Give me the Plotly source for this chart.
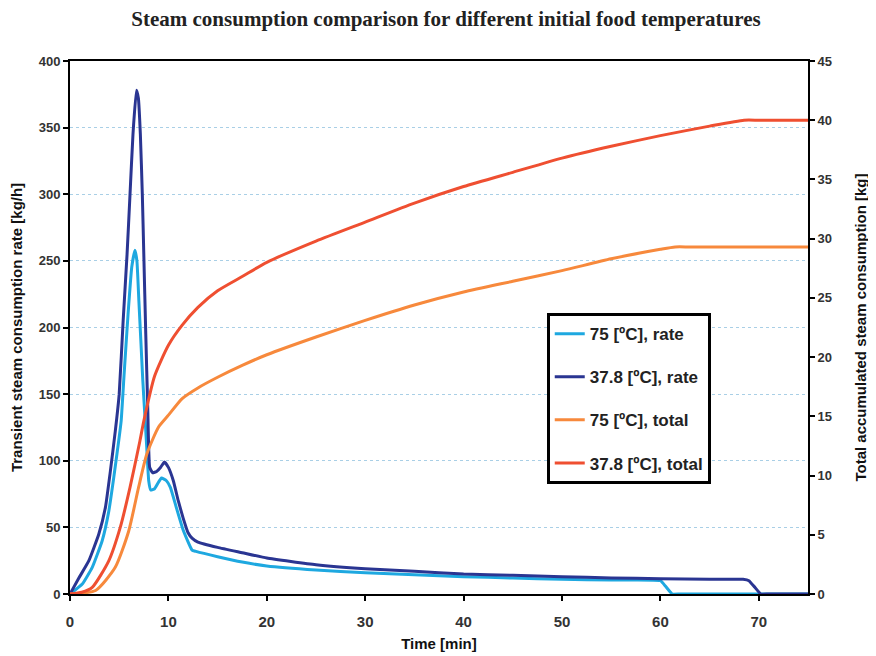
import plotly.graph_objects as go

# ---- data ----
t_rate_75 = [0, 1.25, 2.26, 3.27, 3.94, 4.44, 4.95, 5.2, 5.5, 5.9, 6.27, 6.6, 6.8, 7.0, 7.2, 7.4, 7.6, 7.8, 8.0, 8.2,
             8.6, 9.0, 9.3, 9.8, 10.2, 10.8, 11.5, 12.4, 12.8, 15, 17.5, 20, 25, 30, 35, 40, 45, 50, 55, 60, 60.5,
             61.2, 62, 68, 75]
rate_75 = [0, 7.5, 20, 40, 62, 87, 115, 130, 165, 210, 245, 258, 250, 220, 190, 160, 135, 110, 85, 78, 79, 84, 87, 85,
           80, 65, 48, 33, 32, 28, 24, 21, 18, 16, 14.5, 13, 12, 11, 10.5, 10, 6, 0, 0, 0, 0]

t_rate_378 = [0, 0.9, 1.92, 2.93, 3.6, 4.1, 4.6, 5.0, 5.4, 5.8, 6.1, 6.4, 6.75, 6.95, 7.15, 7.35, 7.5, 7.7, 7.9, 8.1,
              8.4, 8.8, 9.2, 9.6, 10.0, 10.5, 11, 11.5, 12, 12.4, 13, 15, 17.5, 20, 25, 30, 35, 40, 45, 50, 55, 60,
              65, 68.4, 69, 69.6, 70.2, 71, 73, 75]
rate_378 = [0, 12, 25, 45, 65, 92, 122, 150, 205, 255, 300, 345, 378, 372, 345, 300, 255, 195, 140, 95, 91, 92, 95,
            99, 95, 85, 70, 57, 46, 42, 39, 35, 31, 27, 22, 19, 17, 15, 14, 13, 12, 11.5, 11, 11, 10, 5, 0, 0, 0, 0]

t_tot_75 = [0, 2.6, 4.6, 5.96, 6.97, 7.8, 9.0, 10, 11.4, 13, 15, 17.5, 20, 25, 30, 35, 40, 45, 50, 55, 60, 61.5, 63,
            69, 75]
tot_75 = [0, 0.3, 2.25, 5.3, 9.0, 11.8, 14.1, 15.1, 16.5, 17.4, 18.3, 19.3, 20.2, 21.7, 23.1, 24.4, 25.5, 26.4, 27.3,
          28.3, 29.1, 29.3, 29.3, 29.3, 29.3]

t_tot_378 = [0, 1.2, 2.26, 3.94, 5.1, 6.1, 7.1, 7.5, 8.6, 10, 11.4, 13, 15, 17.5, 20, 25, 30, 35, 40, 45, 50, 55, 60,
             65, 68.5, 70, 72.5, 75]
tot_378 = [0, 0.15, 0.56, 2.8, 5.6, 9.0, 12.9, 14.6, 18.4, 21, 22.7, 24.2, 25.6, 26.8, 28.0, 29.8, 31.4, 33.0, 34.4,
           35.6, 36.8, 37.8, 38.7, 39.5, 40, 40, 40, 40]

x_ticks = [0, 10, 20, 30, 40, 50, 60, 70]
y_left_ticks = [0, 50, 100, 150, 200, 250, 300, 350, 400]
y_right_ticks = [0, 5, 10, 15, 20, 25, 30, 35, 40, 45]

C_LB = "#1ea8e0"
C_DB = "#2a3592"
C_OR = "#f7893c"
C_RD = "#ef4f31"

fig = go.Figure()
fig.add_trace(go.Scatter(x=t_rate_75, y=rate_75, mode="lines", name="75 [ºC], rate",
                         line=dict(color=C_LB, width=3, shape="spline", smoothing=0.4), legendgroup="a"))
fig.add_trace(go.Scatter(x=t_rate_378, y=rate_378, mode="lines", name="37.8 [ºC], rate",
                         line=dict(color=C_DB, width=3, shape="spline", smoothing=0.4), legendgroup="b"))
fig.add_trace(go.Scatter(x=t_tot_75, y=tot_75, mode="lines", name="75 [ºC], total", yaxis="y2",
                         line=dict(color=C_OR, width=3, shape="spline", smoothing=0.6), legendgroup="c"))
fig.add_trace(go.Scatter(x=t_tot_378, y=tot_378, mode="lines", name="37.8 [ºC], total", yaxis="y2",
                         line=dict(color=C_RD, width=3, shape="spline", smoothing=0.6), legendgroup="d"))

ytickfont = dict(family="Liberation Sans, Arial", size=13, color="#333333", weight="bold")
xtickfont = dict(family="Liberation Sans, Arial", size=15, color="#333333", weight="bold")
titlefont = dict(family="Liberation Sans, Arial", size=15, color="#111111", weight="bold")

fig.update_layout(
    width=876, height=648,
    margin=dict(l=62, r=76, t=53, b=62, autoexpand=False),
    paper_bgcolor="white", plot_bgcolor="white",
    title=dict(text="<b>Steam consumption comparison for different initial food temperatures</b>",
               x=0.5, xanchor="center", y=1.0, yanchor="top", yref="container", pad=dict(t=3, b=0),
               font=dict(family="Liberation Serif, Times New Roman", size=21, color="#222222")),
    xaxis=dict(range=[0, 75], tickvals=x_ticks, ticks="outside", ticklen=5, tickwidth=2, tickcolor="black",
               showline=True, linecolor="black", linewidth=2, mirror=True, showgrid=False, zeroline=False,
               automargin=False, ticklabelstandoff=8,
               tickfont=xtickfont, title=dict(text="Time [min]", font=titlefont, standoff=9)),
    yaxis=dict(range=[0, 400], tickvals=y_left_ticks, ticks="outside", ticklen=5, tickwidth=2, tickcolor="black",
               showline=True, linecolor="black", linewidth=2, mirror=True, automargin=False,
               showgrid=True, gridcolor="#a9cfe6", griddash="dot", gridwidth=1, zeroline=False,
               tickfont=ytickfont,
               title=dict(text="Transient steam consumption rate [kg/h]", font=titlefont, standoff=18)),
    yaxis2=dict(range=[0, 45], tickvals=y_right_ticks, overlaying="y", side="right", ticks="outside", ticklen=5,
                tickwidth=2, tickcolor="black", showline=True, linecolor="black", linewidth=2, automargin=False,
                showgrid=False, zeroline=False, tickfont=ytickfont,
                title=dict(text="Total accumulated steam consumption [kg]", font=titlefont, standoff=24)),
    legend=dict(x=0.646, y=0.527, xanchor="left", yanchor="top", bgcolor="white", bordercolor="black",
                borderwidth=3, font=dict(family="Liberation Sans, Arial", size=17, color="#222222", weight="bold"),
                tracegroupgap=18, itemwidth=30),
    showlegend=True,
)

fig.write_html("out.html")
